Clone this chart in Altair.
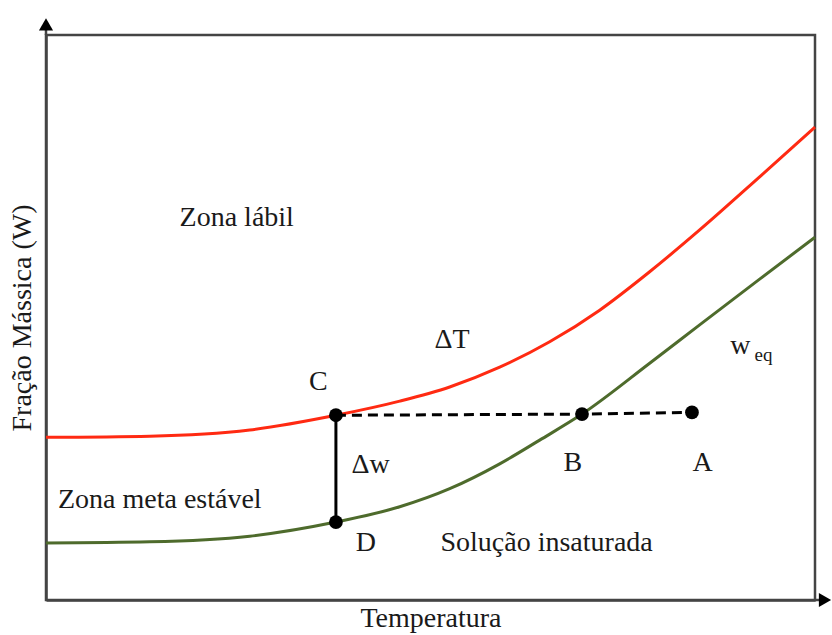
import altair as alt
import pandas as pd

# Curves (arbitrary units)
temp_labil = [0, 13.5, 26.5, 37.7, 46.0, 52.5, 59.0, 65.5, 72.0, 78.5, 85.0, 92.8, 100]
w_labil = [28.8, 29.0, 30.1, 32.7, 35.2, 37.7, 41.2, 45.7, 51.3, 58.1, 65.5, 74.9, 83.7]

temp_eq = [0, 13.5, 26.5, 37.7, 46.0, 52.5, 59.0, 64.2, 69.7, 78.5, 85.0, 92.8, 100]
w_eq = [10.1, 10.3, 11.3, 13.8, 16.5, 19.7, 24.1, 28.3, 32.9, 41.9, 48.7, 56.8, 64.2]

# Points
pt_names = ["C", "D", "B", "A"]
pt_x = [37.7, 37.7, 69.7, 84.0]
pt_y = [32.7, 13.8, 32.9, 33.2]

# Labels
lab_text = ["Zona lábil", "ΔT", "C", "Δw", "B", "A", "w", "D", "Zona meta estável", "Solução insaturada"]
lab_x = [24.8, 52.8, 35.4, 42.2, 68.5, 85.4, 90.3, 41.6, 14.8, 65.1]
lab_y = [67.6, 46.0, 38.6, 23.9, 24.2, 24.2, 44.9, 10.1, 17.7, 10.1]

FONT = "Liberation Serif"
FS = 28
TXT = "#1a1a1a"

xs = alt.Scale(domain=[0, 100], nice=False, zero=False)
ys = alt.Scale(domain=[0, 100], nice=False, zero=False)

red_df = pd.DataFrame({"t": temp_labil, "w": w_labil})
grn_df = pd.DataFrame({"t": temp_eq, "w": w_eq})
pts_df = pd.DataFrame({"name": pt_names, "t": pt_x, "w": pt_y})
lab_df = pd.DataFrame({"text": lab_text, "t": lab_x, "w": lab_y})

x_enc = alt.X("t:Q", scale=xs, axis=alt.Axis(
    title="Temperatura", ticks=False, labels=False, grid=False,
    domainColor="#444444", domainWidth=2.5, titleFont=FONT, titleFontSize=FS,
    titleFontWeight="normal", titleColor=TXT, titlePadding=4))
y_enc = alt.Y("w:Q", scale=ys, axis=alt.Axis(
    title="Fração Mássica (W)", ticks=False, labels=False, grid=False,
    domainColor="#444444", domainWidth=2.5, titleFont=FONT, titleFontSize=FS,
    titleFontWeight="normal", titleColor=TXT, titlePadding=10))

red = alt.Chart(red_df).mark_line(color="#ff2a12", strokeWidth=3, interpolate="monotone").encode(
    x=x_enc, y=y_enc)
grn = alt.Chart(grn_df).mark_line(color="#4e6b2c", strokeWidth=3, interpolate="monotone").encode(
    x="t:Q", y="w:Q")

cd = pts_df[pts_df.name.isin(["C", "D"])]
vline = alt.Chart(cd).mark_line(color="black", strokeWidth=3).encode(x="t:Q", y="w:Q")
dash = alt.Chart(pts_df[pts_df.name.isin(["C", "B", "A"])]).mark_line(
    color="black", strokeWidth=3, strokeDash=[10, 6]).encode(x="t:Q", y="w:Q")
dots = alt.Chart(pts_df).mark_circle(color="black", opacity=1, size=190).encode(x="t:Q", y="w:Q")

labels = alt.Chart(lab_df).mark_text(font=FONT, fontSize=FS, color=TXT, align="center",
                                     baseline="middle").encode(x="t:Q", y="w:Q", text="text:N")
sub = alt.Chart(pd.DataFrame({"text": ["eq"], "t": [93.3], "w": [43.4]})).mark_text(
    font=FONT, fontSize=19, color=TXT, align="center", baseline="middle").encode(
    x="t:Q", y="w:Q", text="text:N")

# Axis arrows
arr_df = pd.DataFrame({"t": [0, 0], "w": [100, 102.5]})
yarr_line = alt.Chart(arr_df).mark_line(color="#444444", strokeWidth=2.5).encode(x="t:Q", y="w:Q")
xarr_line = alt.Chart(pd.DataFrame({"t": [100, 101.5], "w": [0, 0]})).mark_line(
    color="#444444", strokeWidth=2.5).encode(x="t:Q", y="w:Q")
yarr = alt.Chart(pd.DataFrame({"t": [0], "w": [101.9]})).mark_point(
    shape="triangle-up", filled=True, color="black", opacity=1, size=200).encode(x="t:Q", y="w:Q")
xarr = alt.Chart(pd.DataFrame({"t": [101.3], "w": [0]})).mark_point(
    shape="triangle-right", filled=True, color="black", opacity=1, size=200).encode(x="t:Q", y="w:Q")

chart = alt.layer(red, grn, dash, vline, dots, labels, sub, yarr_line, xarr_line, yarr, xarr).properties(
    width=769, height=565,
    autosize=alt.AutoSizeParams(type="none"),
    padding={"left": 46, "top": 35, "right": 17, "bottom": 35},
    background="white",
).configure_view(stroke="#444444", strokeWidth=2.5)

chart.save("out.html", embed_options={"renderer": "svg", "actions": False})
